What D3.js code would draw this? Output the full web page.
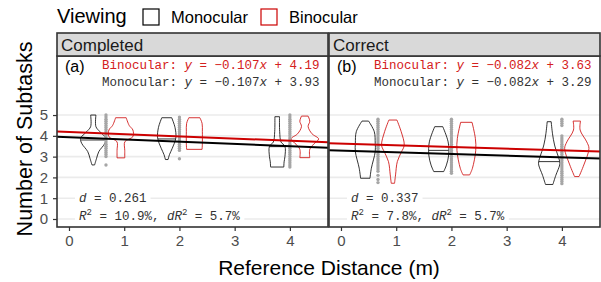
<!DOCTYPE html>
<html>
<head>
<meta charset="utf-8">
<script src="https://cdn.jsdelivr.net/npm/d3@7"></script>
<style>
  body { margin: 0; background: #fff; }
  svg { display: block; font-family: "Liberation Sans", Arial, sans-serif; }
</style>
</head>
<body>
<svg width="601" height="282"></svg>
<script>
// facets and fits
const panels = ["Completed", "Correct"]
const panelTags = ["(a)", "(b)"]
const slopes = ["-0.107", "-0.082"]
const binoIntercepts = ["4.19", "3.63"]
const monoIntercepts = ["3.93", "3.29"]
const effectD = ["0.261", "0.337"]
const rSquared = ["10.9%", "7.8%"]
const dRSquared = ["5.7%", "5.7%"]

const distances = [0.67, 2, 4]
const xTicks = [0, 1, 2, 3, 4]
const yTicks = [0, 1, 2, 3, 4, 5]

// violin outlines: [subtasks, half width in metres], top to bottom
const monoViolins = [
  [ // Completed
    [[5.0, 0.048], [4.44, 0.048], [4.2, 0.12], [3.88, 0.23], [3.64, 0.21], [3.24, 0.10], [2.92, 0.06], [2.6, 0.024]],
    [[4.87, 0.09], [4.4, 0.15], [3.9, 0.165], [3.4, 0.10], [3.1, 0.05], [2.86, 0.024]],
    [[4.92, 0.042], [4.2, 0.045], [3.7, 0.07], [3.5, 0.14], [3.0, 0.14], [2.75, 0.125], [2.5, 0.12]]
  ],
  [ // Correct
    [[4.71, 0.06], [4.2, 0.163], [3.64, 0.18], [3.24, 0.18], [2.44, 0.11], [1.96, 0.085]],
    [[4.44, 0.073], [3.71, 0.17], [3.08, 0.18], [2.6, 0.14], [2.28, 0.09]],
    [[4.68, 0.036], [4.1, 0.06], [3.56, 0.097], [2.76, 0.19], [2.6, 0.19], [2.1, 0.12], [1.66, 0.067]]
  ]
]
const binoViolins = [
  [
    [[4.87, 0.096], [4.5, 0.15], [4.28, 0.217], [3.96, 0.217], [3.72, 0.072], [3.3, 0.07], [2.94, 0.07]],
    [[4.87, 0.1], [4.6, 0.14], [4.2, 0.145], [3.6, 0.145], [3.35, 0.14]],
    [[4.95, 0.06], [4.7, 0.09], [4.45, 0.06], [4.1, 0.13], [3.85, 0.25], [3.6, 0.16], [3.35, 0.09], [2.95, 0.09]]
  ],
  [
    [[4.76, 0.073], [4.2, 0.15], [3.55, 0.205], [3.2, 0.15], [2.76, 0.08], [2.12, 0.048], [1.72, 0.03]],
    [[4.65, 0.103], [3.88, 0.163], [3.3, 0.17], [2.44, 0.11], [2.12, 0.06]],
    [[4.71, 0.067], [4.28, 0.06], [3.71, 0.18], [3.39, 0.22], [2.6, 0.127], [2.04, 0.04]]
  ]
]
const monoMedians = [[3.8, 3.85, 3.48], [3.25, 3.3, 2.76]]

// per-participant points (grey column)
const points = [
  [
    [5.0, 4.9, 4.8, 4.7, 4.6, 4.5, 4.4, 4.3, 4.2, 4.1, 4.0, 3.9, 3.8, 3.7, 3.6, 3.5, 3.4, 3.3, 3.2, 3.1, 3.0, 2.6],
    [4.9, 4.8, 4.7, 4.6, 4.5, 4.4, 4.3, 4.2, 4.1, 4.0, 3.9, 3.8, 3.7, 3.6, 3.5, 3.4, 3.3, 2.9],
    [5.0, 4.9, 4.8, 4.7, 4.6, 4.5, 4.4, 4.3, 4.2, 4.1, 4.0, 3.9, 3.8, 3.7, 3.6, 3.5, 3.4, 3.3, 3.2, 3.1, 3.0, 2.9, 2.8, 2.7, 2.6, 2.5]
  ],
  [
    [4.8, 4.7, 4.6, 4.5, 4.4, 4.3, 4.2, 4.1, 4.0, 3.9, 3.8, 3.7, 3.6, 3.5, 3.4, 3.3, 3.2, 3.1, 3.0, 2.9, 2.8, 2.7, 2.6, 2.5, 2.4, 2.3, 2.1, 1.9, 1.75],
    [4.8, 4.7, 4.6, 4.5, 4.4, 4.3, 4.2, 4.1, 4.0, 3.9, 3.8, 3.7, 3.6, 3.5, 3.4, 3.3, 3.2, 3.1, 3.0, 2.9, 2.8, 2.7, 2.6, 2.5, 2.4, 2.3, 2.2],
    [4.8, 4.7, 4.6, 4.5, 4.0, 3.9, 3.8, 3.7, 3.6, 3.5, 3.4, 3.3, 3.2, 3.1, 3.0, 2.9, 2.8, 2.7, 2.6, 2.5, 2.4, 2.3, 2.2, 2.1, 2.0, 1.9, 1.8, 1.7]
  ]
]

const red = "#CC0000"
const monoFont = "'Courier New', 'Liberation Mono', monospace"

const svg = d3.select("svg")

// panel geometry
const panelTop = 56, panelBottom = 227, stripTop = 33
const panelW = 271
const panelLefts = [57, 329]

const y = d3.scaleLinear().domain([-0.385, 7.84]).range([panelBottom, panelTop])

const violinLine = d3.line().curve(d3.curveCatmullRom.alpha(0.5))

function violinPath(x, cx, profile) {
  const right = profile.map(p => [x(cx + p[1]), y(p[0])])
  const left = profile.slice().reverse().map(p => [x(cx - p[1]), y(p[0])])
  return violinLine(right) + "L" + violinLine(left).slice(1) + "Z"
}

panels.forEach((name, i) => {
  const left = panelLefts[i]
  const x = d3.scaleLinear().domain([-0.217, 4.69]).range([left, left + panelW])
  const g = svg.append("g")

  g.append("clipPath").attr("id", "clip" + i)
    .append("rect").attr("x", left).attr("y", panelTop).attr("width", panelW).attr("height", panelBottom - panelTop)

  // grid
  g.append("g").selectAll("line").data(yTicks).join("line")
    .attr("x1", left).attr("x2", left + panelW)
    .attr("y1", d => y(d)).attr("y2", d => y(d))
    .attr("stroke", "#EBEBEB").attr("stroke-width", 1.6)

  const plot = g.append("g").attr("clip-path", `url(#clip${i})`)

  // violins
  distances.forEach((dist, j) => {
    plot.append("path")
      .attr("d", violinPath(x, dist - 0.23, monoViolins[i][j]))
      .attr("fill", "none").attr("stroke", "#000").attr("stroke-width", 0.8)
    const mp = monoViolins[i][j]
    // median width from outline
    const m = monoMedians[i][j]
    let w = 0
    for (let k = 0; k < mp.length - 1; k++) {
      if (m <= mp[k][0] && m >= mp[k + 1][0]) {
        const t = (mp[k][0] - m) / (mp[k][0] - mp[k + 1][0])
        w = mp[k][1] + t * (mp[k + 1][1] - mp[k][1])
      }
    }
    plot.append("line")
      .attr("x1", x(dist - 0.23 - w)).attr("x2", x(dist - 0.23 + w))
      .attr("y1", y(m)).attr("y2", y(m))
      .attr("stroke", "#000").attr("stroke-width", 0.8)
    plot.append("path")
      .attr("d", violinPath(x, dist + 0.27, binoViolins[i][j]))
      .attr("fill", "none").attr("stroke", red).attr("stroke-width", 0.8)
    plot.append("g").selectAll("circle").data(points[i][j]).join("circle")
      .attr("cx", x(dist)).attr("cy", d => y(d)).attr("r", 1.7)
      .attr("fill", "#A6A6A6")
  })

  // fitted lines
  const fits = [[monoIntercepts[i], "#000"], [binoIntercepts[i], red]]
  fits.forEach(([b, col]) => {
    const x0 = x.domain()[0], x1 = x.domain()[1]
    plot.append("line")
      .attr("x1", x(x0)).attr("y1", y(+b + +slopes[i] * x0))
      .attr("x2", x(x1)).attr("y2", y(+b + +slopes[i] * x1))
      .attr("stroke", col).attr("stroke-width", 2)
  })

  // top annotations
  g.append("text").attr("x", left + 8).attr("y", 72)
    .attr("font-size", 16).attr("fill", "#000").text(panelTags[i])
  const eq = [["Binocular: ", binoIntercepts[i], "#D42020", 69], ["Monocular: ", monoIntercepts[i], "#333", 86]]
  eq.forEach(([lab, b, col, yy]) => {
    const t = g.append("text").attr("x", left + 45).attr("y", yy)
      .attr("font-family", monoFont).attr("font-size", 12.5).attr("fill", col)
      .attr("xml:space", "preserve")
    t.append("tspan").text(lab)
    t.append("tspan").attr("font-style", "italic").text("y")
    t.append("tspan").text(" = " + slopes[i].replace("-", "\u2212"))
    t.append("tspan").attr("font-style", "italic").text("x")
    t.append("tspan").text(" + " + b)
  })

  // bottom labels with white box
  function label(yy, build) {
    const lg = g.append("g")
    const bg = lg.append("rect").attr("fill", "#fff")
    const t = lg.append("text").attr("x", left + 22).attr("y", yy)
      .attr("font-family", monoFont).attr("font-size", 12.5).attr("fill", "#333")
      .attr("xml:space", "preserve")
    build(t)
    const bb = t.node().getBBox()
    bg.attr("x", bb.x - 4).attr("y", bb.y).attr("width", bb.width + 8).attr("height", bb.height)
  }
  label(202, t => {
    t.append("tspan").attr("font-style", "italic").text("d")
    t.append("tspan").text(" = " + effectD[i])
  })
  label(220, t => {
    t.append("tspan").attr("font-style", "italic").text("R")
    t.append("tspan").attr("dy", -5).attr("font-size", 9).text("2")
    t.append("tspan").attr("dy", 5).text(" = " + rSquared[i] + ", ")
    t.append("tspan").attr("font-style", "italic").text("dR")
    t.append("tspan").attr("dy", -5).attr("font-size", 9).text("2")
    t.append("tspan").attr("dy", 5).text(" = " + dRSquared[i])
  })

  // panel border
  g.append("rect").attr("x", left).attr("y", panelTop).attr("width", panelW).attr("height", panelBottom - panelTop)
    .attr("fill", "none").attr("stroke", "#333").attr("stroke-width", 1.6)

  // strip
  g.append("rect").attr("x", left).attr("y", stripTop).attr("width", panelW).attr("height", panelTop - stripTop)
    .attr("fill", "#D9D9D9").attr("stroke", "#333").attr("stroke-width", 1.6)
  g.append("text").attr("x", left + 4).attr("y", 51).attr("font-size", 17).attr("fill", "#1A1A1A").text(name)

  // x axis
  const xa = g.append("g").attr("transform", `translate(0,${panelBottom})`)
    .call(d3.axisBottom(x).tickValues(xTicks).tickSize(4).tickPadding(4).tickFormat(d3.format("d")))
  xa.select(".domain").remove()
  xa.selectAll("line").attr("stroke", "#333").attr("stroke-width", 1.2)
  xa.selectAll("text").attr("font-size", 15).attr("fill", "#4D4D4D")
    .attr("font-family", "Liberation Sans, Arial, sans-serif")
})

// y axis (left panel only)
const ya = svg.append("g").attr("transform", `translate(${panelLefts[0]},0)`)
  .call(d3.axisLeft(y).tickValues(yTicks).tickSize(4).tickPadding(5))
ya.select(".domain").remove()
ya.selectAll("line").attr("stroke", "#333").attr("stroke-width", 1.2)
ya.selectAll("text").attr("font-size", 15).attr("fill", "#4D4D4D")
  .attr("font-family", "Liberation Sans, Arial, sans-serif")

// axis titles
svg.append("text").attr("x", 329).attr("y", 275).attr("text-anchor", "middle")
  .attr("font-size", 21).text("Reference Distance (m)")
svg.append("text").attr("transform", `translate(32,139) rotate(-90)`)
  .attr("text-anchor", "middle").attr("font-size", 21.5).text("Number of Subtasks")

// legend
const legend = svg.append("g")
legend.append("text").attr("x", 57).attr("y", 23).attr("font-size", 20).text("Viewing")
const keys = [["Monocular", "#000", 143], ["Binocular", red, 261]]
keys.forEach(([lab, col, kx]) => {
  legend.append("rect").attr("x", kx).attr("y", 9).attr("width", 16).attr("height", 16)
    .attr("fill", "#fff").attr("stroke", col).attr("stroke-width", 1.2)
  legend.append("text").attr("x", kx + 28).attr("y", 23).attr("font-size", 16.5).text(lab)
})
</script>
</body>
</html>
